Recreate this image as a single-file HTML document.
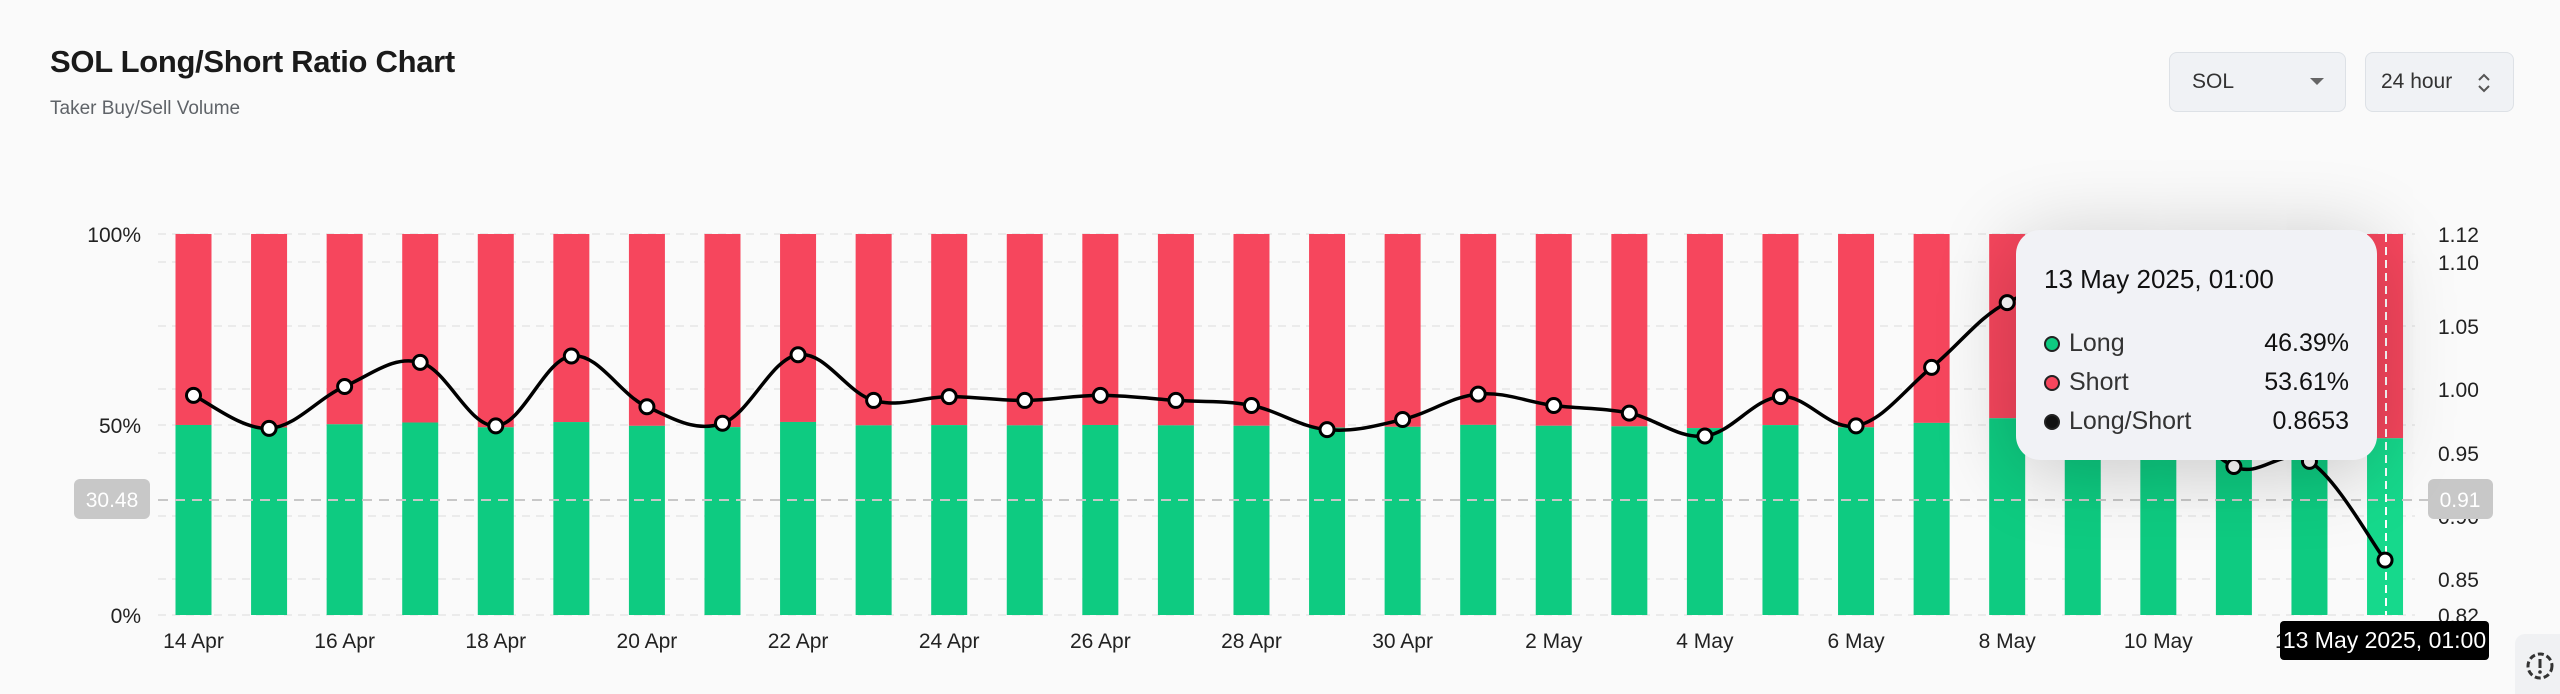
<!DOCTYPE html>
<html><head><meta charset="utf-8">
<style>
html,body{margin:0;padding:0;width:2560px;height:694px;overflow:hidden;background:#fafafa;font-family:"Liberation Sans",sans-serif;}
.abs{position:absolute}
</style></head>
<body>
<div class="abs" style="left:50px;top:44px;font-size:31px;font-weight:bold;color:#1a1a1a;letter-spacing:-0.3px">SOL Long/Short Ratio Chart</div>
<div class="abs" style="left:50px;top:98px;font-size:19px;color:#5f6368">Taker Buy/Sell Volume</div>
<div class="abs" style="left:2169px;top:52px;width:177px;height:60px;border:1px solid #dde1e6;border-radius:8px;background:#f0f2f5;box-sizing:border-box"></div>
<div class="abs" style="left:2192px;top:70px;font-size:21px;color:#333">SOL</div>
<svg class="abs" style="left:2310px;top:78px" width="14" height="8"><polygon points="0,0 14,0 7,7" fill="#666"/></svg>
<div class="abs" style="left:2365px;top:52px;width:149px;height:60px;border:1px solid #dde1e6;border-radius:8px;background:#f0f2f5;box-sizing:border-box"></div>
<div class="abs" style="left:2381px;top:70px;font-size:21px;color:#333">24 hour</div>
<svg class="abs" style="left:2477px;top:72px" width="14" height="22"><polyline points="2,8 7,3 12,8" fill="none" stroke="#555" stroke-width="2"/><polyline points="2,14 7,19 12,14" fill="none" stroke="#555" stroke-width="2"/></svg>
<svg id="c" class="abs" style="left:0;top:0" width="2560" height="694"></svg>
<div class="abs" style="left:2016px;top:230px;width:361px;height:230px;background:#f1f2f6;border-radius:24px;box-shadow:0 10px 80px rgba(0,0,0,0.22)"></div>
<div class="abs" style="left:2044px;top:264px;font-size:26px;color:#111">13 May 2025, 01:00</div>
<div class="abs" style="left:2044px;top:324px;width:305px;font-size:25px;color:#333;line-height:39px">
<div style="display:flex;align-items:center"><span style="width:12px;height:12px;border-radius:50%;background:#0ecb81;border:2px solid #222;margin-right:9px"></span><span style="flex:1">Long</span><span style="color:#111">46.39%</span></div>
<div style="display:flex;align-items:center"><span style="width:12px;height:12px;border-radius:50%;background:#f6465d;border:2px solid #222;margin-right:9px"></span><span style="flex:1">Short</span><span style="color:#111">53.61%</span></div>
<div style="display:flex;align-items:center"><span style="width:12px;height:12px;border-radius:50%;background:#111;border:2px solid #222;margin-right:9px"></span><span style="flex:1">Long/Short</span><span style="color:#111">0.8653</span></div>
</div>
<div class="abs" style="left:2280px;top:621px;width:209px;height:39px;background:#000;border-radius:4px;color:#fff;font-size:23px;line-height:39px;text-align:center">13 May 2025, 01:00</div>
<div class="abs" style="left:2515px;top:634px;width:45px;height:60px;background:#f0f1f3;border-radius:10px 0 0 0"></div>
<svg class="abs" style="left:2524px;top:650px" width="32" height="32"><circle cx="16" cy="16" r="12" fill="none" stroke="#333" stroke-width="3" stroke-dasharray="6 3"/><line x1="16" y1="9" x2="16" y2="18" stroke="#333" stroke-width="3"/><circle cx="16" cy="22" r="1.8" fill="#333"/></svg>
<script>
var r=[0.995,0.969,1.002,1.021,0.971,1.026,0.986,0.973,1.027,0.991,0.994,0.991,0.995,0.991,0.987,0.968,0.976,0.996,0.987,0.981,0.963,0.994,0.971,1.017,1.068,1.075,1.0,0.939,0.943,0.8653];
var s='';
var gl=[234,262,326,389,425,453,516,579,615];
gl.forEach(function(y){s+='<line x1="158" x2="2415" y1="'+y+'" y2="'+y+'" stroke="#e6e6e6" stroke-width="1.5" stroke-dasharray="8 6"/>';});
function X(i){return 193.5+75.57*i;}
function Y(v){return 389-(v-1)*1270;}
var pts=[];
for(var i=0;i<30;i++){
 var p=r[i]/(1+r[i]); if(i==29)p=0.4639;
 var yt=615-381*p, x=X(i)-18;
 var last=i==29;
 s+='<rect x="'+x+'" y="234" width="36" height="'+(yt-234)+'" fill="#f6465d"/>';
 s+='<rect x="'+x+'" y="'+yt+'" width="36" height="'+(615-yt)+'" fill="'+(last?'#16d98c':'#0ecb81')+'"/>';
 pts.push([X(i),Y(r[i])]);
}
s+='<line x1="158" x2="2428" y1="500" y2="500" stroke="#c8c8c8" stroke-width="2" stroke-dasharray="10 7"/>';
s+='<line x1="2386" x2="2386" y1="234" y2="615" stroke="#fff" stroke-width="2" stroke-dasharray="8 5"/>';
var d='M'+pts[0][0]+','+pts[0][1];
for(var i=0;i<29;i++){
 var p0=pts[Math.max(0,i-1)],p1=pts[i],p2=pts[i+1],p3=pts[Math.min(29,i+2)];
 var t=0.18;
 d+=' C'+(p1[0]+(p2[0]-p0[0])*t)+','+(p1[1]+(p2[1]-p0[1])*t)+' '+(p2[0]-(p3[0]-p1[0])*t)+','+(p2[1]-(p3[1]-p1[1])*t)+' '+p2[0]+','+p2[1];
}
s+='<path d="'+d+'" fill="none" stroke="#000" stroke-width="3.5"/>';
pts.forEach(function(p){s+='<circle cx="'+p[0]+'" cy="'+p[1]+'" r="7" fill="#fff" stroke="#000" stroke-width="3"/>';});
var ll=[['100%',234],['50%',425],['0%',615]];
ll.forEach(function(a){s+='<text x="141" y="'+(a[1]+8)+'" text-anchor="end" font-size="21" fill="#222">'+a[0]+'</text>';});
var rl=[['1.12',234],['1.10',262],['1.05',326],['1.00',389],['0.95',453],['0.90',516],['0.85',579],['0.82',615]];
rl.forEach(function(a){s+='<text x="2438" y="'+(a[1]+8)+'" font-size="21" fill="#222">'+a[0]+'</text>';});
s+='<rect x="74" y="479" width="76" height="40" rx="6" fill="#c8c8c8"/><text x="112" y="507" text-anchor="middle" font-size="21" fill="#fff">30.48</text>';
s+='<rect x="2428" y="479" width="65" height="40" rx="6" fill="#c8c8c8"/><text x="2460" y="507" text-anchor="middle" font-size="21" fill="#fff">0.91</text>';
var xl=['14 Apr','16 Apr','18 Apr','20 Apr','22 Apr','24 Apr','26 Apr','28 Apr','30 Apr','2 May','4 May','6 May','8 May','10 May','12 May'];
xl.forEach(function(t,k){s+='<text x="'+X(2*k)+'" y="648" text-anchor="middle" font-size="21" fill="#222">'+t+'</text>';});
document.getElementById('c').innerHTML=s;
</script>
</body></html>
